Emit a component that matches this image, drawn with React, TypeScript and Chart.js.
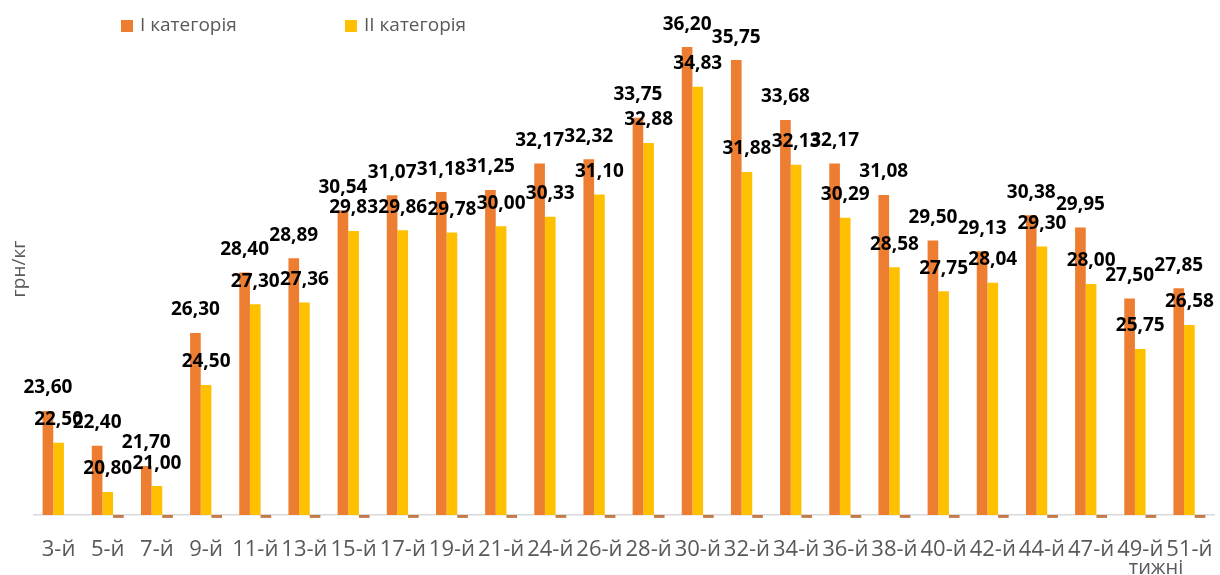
import React, { useEffect, useRef } from "react";
import { Chart, registerables } from "chart.js";

Chart.register(...registerables);

const weeks = [
  "3-й", "5-й", "7-й", "9-й", "11-й", "13-й", "15-й", "17-й", "19-й", "21-й", "24-й", "26-й",
  "28-й", "30-й", "32-й", "34-й", "36-й", "38-й", "40-й", "42-й", "44-й", "47-й", "49-й", "51-й",
];
const category1 = [
  23.6, 22.4, 21.7, 26.3, 28.4, 28.89, 30.54, 31.07, 31.18, 31.25, 32.17, 32.32,
  33.75, 36.2, 35.75, 33.68, 32.17, 31.08, 29.5, 29.13, 30.38, 29.95, 27.5, 27.85,
];
const category2 = [
  22.5, 20.8, 21.0, 24.5, 27.3, 27.36, 29.83, 29.86, 29.78, 30.0, 30.33, 31.1,
  32.88, 34.83, 31.88, 32.13, 30.29, 28.58, 27.75, 28.04, 29.3, 28.0, 25.75, 26.58,
];
// third (unnamed) series: tiny marks just under the axis line
const category3 = [
  null, 19.9, 19.9, 19.9, 19.9, 19.9, 19.9, 19.9, 19.9, 19.9, 19.9, 19.9,
  19.9, 19.9, 19.9, 19.9, 19.9, 19.9, 19.9, 19.9, 19.9, 19.9, 19.9, 19.9,
];
const seriesNames = ["I категорія", "II категорія", "III категорія"];
const seriesColors = ["#ED7D31", "#FFC000", "#C47A48"];
const yTitle = "грн/кг";
const xTitle = "тижні";
const yMin = 20;
const yMax = 37;

const FONT = "'Open Sans', 'Liberation Sans', sans-serif";
const GRAY = "#595959";

const decorations = {
  id: "decorations",
  afterDatasetsDraw(chart: any) {
    const ctx = chart.ctx;
    ctx.save();
    // data labels
    ctx.font = `bold 19px ${FONT}`;
    ctx.fillStyle = "#000000";
    ctx.textAlign = "center";
    ctx.textBaseline = "middle";
    [0, 1].forEach((di) => {
      const meta = chart.getDatasetMeta(di);
      const data = chart.data.datasets[di].data as number[];
      meta.data.forEach((el: any, i: number) => {
        const v = data[i];
        if (v == null) return;
        ctx.fillText(v.toFixed(2).replace(".", ","), el.x, el.y - 23);
      });
    });
    // legend
    const legendX = [121, 345];
    ctx.font = `19px ${FONT}`;
    ctx.textAlign = "left";
    ctx.textBaseline = "middle";
    [0, 1].forEach((di, k) => {
      ctx.fillStyle = seriesColors[di];
      ctx.fillRect(legendX[k], 20, 12, 12);
      ctx.fillStyle = GRAY;
      ctx.fillText(seriesNames[di], legendX[k] + 19, 26);
    });
    // y title
    ctx.save();
    ctx.translate(20, 269);
    ctx.rotate(-Math.PI / 2);
    ctx.font = `19px ${FONT}`;
    ctx.textAlign = "center";
    ctx.textBaseline = "middle";
    ctx.fillStyle = GRAY;
    ctx.fillText(yTitle, 0, 0);
    ctx.restore();
    // x title
    ctx.font = `20px ${FONT}`;
    ctx.textAlign = "center";
    ctx.textBaseline = "alphabetic";
    ctx.fillStyle = GRAY;
    ctx.fillText(xTitle, 1156, 574);
    ctx.restore();
  },
};

export default function App() {
  const canvasRef = useRef<HTMLCanvasElement | null>(null);

  useEffect(() => {
    document.body.style.margin = "0";
    document.body.style.overflow = "hidden";
    const canvas = canvasRef.current;
    if (!canvas) return;
    const chart = new Chart(canvas, {
      type: "bar",
      data: {
        labels: weeks,
        datasets: [
          {
            label: seriesNames[0],
            data: category1,
            backgroundColor: seriesColors[0],
            categoryPercentage: 0.65,
            barPercentage: 1,
          },
          {
            label: seriesNames[1],
            data: category2,
            backgroundColor: seriesColors[1],
            categoryPercentage: 0.65,
            barPercentage: 1,
          },
          {
            label: seriesNames[2],
            data: category3 as any,
            backgroundColor: seriesColors[2],
            categoryPercentage: 0.65,
            barPercentage: 1,
            base: yMin,
            clip: false as any,
          },
        ],
      },
      options: {
        responsive: false,
        animation: false,
        layout: { padding: { left: 34, right: 6, top: 24, bottom: -9 } },
        plugins: {
          legend: { display: false },
          tooltip: { enabled: false },
        },
        scales: {
          x: {
            grid: { display: false, drawTicks: false },
            border: { display: true, color: "#D9D9D9", width: 1.5 },
            ticks: {
              autoSkip: false,
              maxRotation: 0,
              minRotation: 0,
              padding: 3,
              color: GRAY,
              font: { family: FONT, size: 22, lineHeight: "63px" },
            },
          },
          y: {
            display: false,
            min: yMin,
            max: yMax,
          },
        },
      },
      plugins: [decorations],
    });
    return () => chart.destroy();
  }, []);

  return (
    <div style={{ width: 1220, height: 575, position: "relative" }}>
      <canvas ref={canvasRef} width={1220} height={575} />
    </div>
  );
}
